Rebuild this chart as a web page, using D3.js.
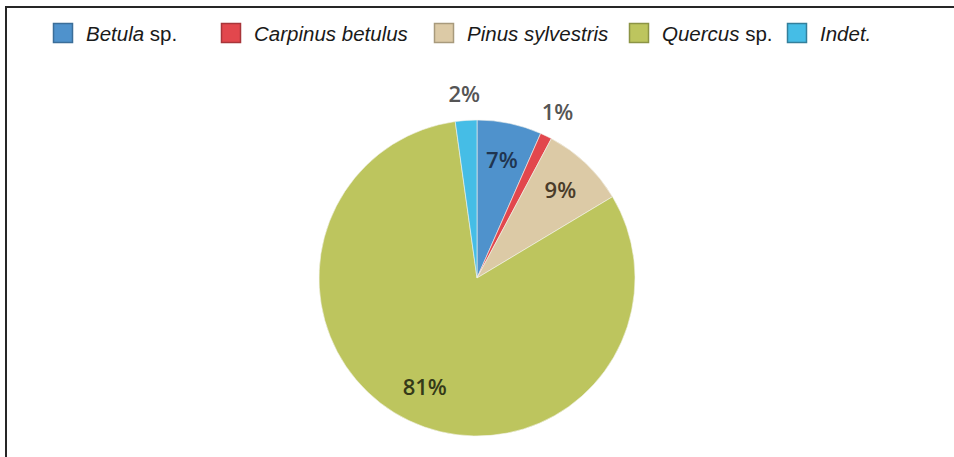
<!DOCTYPE html>
<html>
<head>
<meta charset="utf-8">
<script src="https://cdn.jsdelivr.net/npm/d3@7"></script>
<style>
  body { margin: 0; background: #fff; }
  svg { display: block; }
</style>
</head>
<body>
<svg></svg>
<script>
let width = 954, height = 457;

// data (percent of charcoal fragments)
const taxa = ["Betula", "Carpinus betulus", "Pinus sylvestris", "Quercus", "Indet."];
const suffix = [" sp.", "", "", " sp.", ""];
const values = [6.6, 1.2, 8.6, 81.4, 2.2];
const colors = ["#4f92cc", "#e2474d", "#dccaa6", "#bdc55e", "#45bde6"];
const borders = ["#3b6e99", "#a8353a", "#a89a7c", "#8c9445", "#347f9b"];
const labelColors = ["#1f3550", "#555555", "#4a3c2a", "#343a18", "#555555"];
const outside = [false, true, false, false, true];

// legend layout (square left edges)
const legendX = [53, 221, 434, 629, 787];

let svg = d3.select("svg")
    .attr("width", width)
    .attr("height", height)
    .attr("viewBox", "0 0 " + width + " " + height);

// frame: left + top edges only
svg.append("path")
    .attr("d", "M6," + (height + 5) + " L6,7 L" + (width + 5) + ",7")
    .attr("fill", "none")
    .attr("stroke", "#262626")
    .attr("stroke-width", 2);

// legend
let legend = svg.append("g")
    .selectAll("g")
    .data(taxa)
    .join("g")
    .attr("transform", (d, i) => "translate(" + legendX[i] + ",0)");

legend.append("rect")
    .attr("x", 0.5).attr("y", 23.5)
    .attr("width", 19).attr("height", 19)
    .attr("fill", (d, i) => colors[i])
    .attr("stroke", (d, i) => borders[i])
    .attr("stroke-width", 1.5);

let ltext = legend.append("text")
    .attr("x", 33).attr("y", 41)
    .attr("font-family", "Liberation Sans, Arial, sans-serif")
    .attr("font-size", 20.5)
    .attr("fill", "#1a1a1a");
ltext.append("tspan").attr("font-style", "italic").text(d => d);
ltext.append("tspan").text((d, i) => suffix[i]);

// pie
let cx = 477, cy = 278, r = 158;
let pie = d3.pie().sort(null).value(d => d);
let arcs = pie(values);
let arc = d3.arc().innerRadius(0).outerRadius(r);
let inLabel = d3.arc().innerRadius(121).outerRadius(121);
let outLabel = d3.arc().innerRadius(184).outerRadius(184);

let g = svg.append("g").attr("transform", "translate(" + cx + "," + cy + ")");

g.selectAll("path")
    .data(arcs)
    .join("path")
    .attr("d", arc)
    .attr("fill", (d, i) => colors[i])
    .attr("stroke", "#f4f4ec")
    .attr("stroke-width", 0.6);

g.selectAll("text")
    .data(arcs)
    .join("text")
    .attr("transform", (d, i) => "translate(" + (outside[i] ? outLabel : inLabel).centroid(d) + ")")
    .attr("text-anchor", "middle")
    .attr("dy", "0.36em")
    .attr("font-family", "Open Sans, sans-serif")
    .attr("font-weight", 600)
    .attr("font-size", 22)
    .attr("fill", (d, i) => labelColors[i])
    .text(d => Math.round(d.data) + "%");
</script>
</body>
</html>
